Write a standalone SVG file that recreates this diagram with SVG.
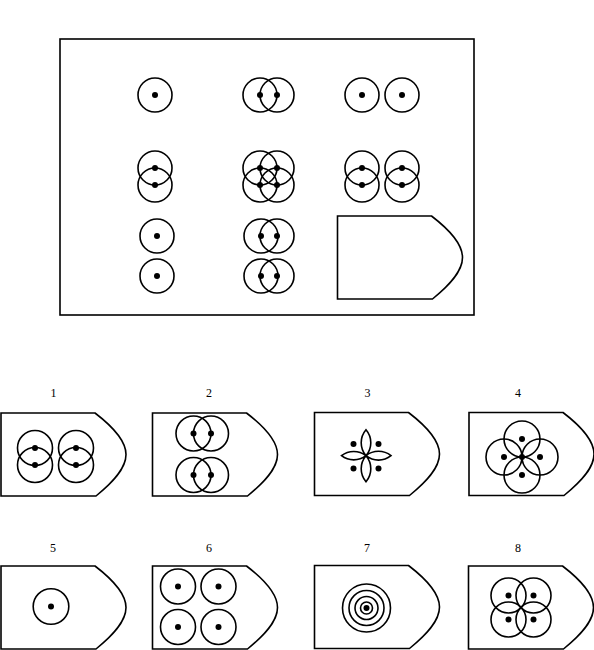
<svg xmlns="http://www.w3.org/2000/svg" xmlns:xlink="http://www.w3.org/1999/xlink" width="594" height="650" viewBox="0 0 594 650">
<style>
.c{fill:none;stroke:#000;stroke-width:1.6}
.d{fill:#000;stroke:none}
.s{fill:none;stroke:#000;stroke-width:1.6;stroke-linejoin:miter}
.lbl{font-family:"Liberation Serif","Times New Roman",serif;font-size:12px;fill:#000;text-anchor:middle}
</style>
<defs>
<path id="tag" d="M0 0 H94 C111 13 125 27 125 41.5 C125 56 111 70 95 83 H0 Z"/>
</defs>
<rect width="594" height="650" fill="#fff"/>
<g id="matrix">
<rect x="60" y="39" width="414" height="276" class="s" stroke="#222"/>
<g id="a1"><circle cx="155" cy="95" r="17" class="c"/><circle cx="155" cy="95" r="3" class="d"/></g>
<g id="a2"><circle cx="260" cy="95" r="17" class="c"/><circle cx="277" cy="95" r="17" class="c"/><circle cx="260" cy="95" r="3" class="d"/><circle cx="277" cy="95" r="3" class="d"/></g>
<g id="a3"><circle cx="362" cy="95" r="17" class="c"/><circle cx="402" cy="95" r="17" class="c"/><circle cx="362" cy="95" r="3" class="d"/><circle cx="402" cy="95" r="3" class="d"/></g>
<g id="b1"><circle cx="155" cy="168" r="17" class="c"/><circle cx="155" cy="185" r="17" class="c"/><circle cx="155" cy="168" r="3" class="d"/><circle cx="155" cy="185" r="3" class="d"/></g>
<g id="b2"><circle cx="260" cy="168" r="17" class="c"/><circle cx="277" cy="168" r="17" class="c"/><circle cx="260" cy="185" r="17" class="c"/><circle cx="277" cy="185" r="17" class="c"/><circle cx="260" cy="168" r="3" class="d"/><circle cx="277" cy="168" r="3" class="d"/><circle cx="260" cy="185" r="3" class="d"/><circle cx="277" cy="185" r="3" class="d"/></g>
<g id="b3"><circle cx="362" cy="168" r="17" class="c"/><circle cx="362" cy="185" r="17" class="c"/><circle cx="402" cy="168" r="17" class="c"/><circle cx="402" cy="185" r="17" class="c"/><circle cx="362" cy="168" r="3" class="d"/><circle cx="362" cy="185" r="3" class="d"/><circle cx="402" cy="168" r="3" class="d"/><circle cx="402" cy="185" r="3" class="d"/></g>
<g id="c1"><circle cx="157" cy="236" r="17" class="c"/><circle cx="157" cy="276" r="17" class="c"/><circle cx="157" cy="236" r="3" class="d"/><circle cx="157" cy="276" r="3" class="d"/></g>
<g id="c2"><circle cx="261" cy="236" r="17" class="c"/><circle cx="277" cy="236" r="17" class="c"/><circle cx="261" cy="276" r="17" class="c"/><circle cx="277" cy="276" r="17" class="c"/><circle cx="261" cy="236" r="3" class="d"/><circle cx="277" cy="236" r="3" class="d"/><circle cx="261" cy="276" r="3" class="d"/><circle cx="277" cy="276" r="3" class="d"/></g>
<g id="c3"><use xlink:href="#tag" href="#tag" x="337.5" y="216" class="s"/></g>
</g>
<g id="opt1">
<text x="53.5" y="397" class="lbl">1</text>
<use xlink:href="#tag" href="#tag" x="1" y="413" class="s"/>
<circle cx="35" cy="448" r="17.5" class="c"/><circle cx="35" cy="465" r="17.5" class="c"/><circle cx="76" cy="448" r="17.5" class="c"/><circle cx="76" cy="465" r="17.5" class="c"/>
<circle cx="35" cy="448" r="3" class="d"/><circle cx="35" cy="465" r="3" class="d"/><circle cx="76" cy="448" r="3" class="d"/><circle cx="76" cy="465" r="3" class="d"/>
</g>
<g id="opt2">
<text x="209" y="397" class="lbl">2</text>
<use xlink:href="#tag" href="#tag" x="152.5" y="413" class="s"/>
<circle cx="193.5" cy="433.5" r="17.5" class="c"/><circle cx="211" cy="433.5" r="17.5" class="c"/><circle cx="193.5" cy="475" r="17.5" class="c"/><circle cx="211" cy="475" r="17.5" class="c"/>
<circle cx="193.5" cy="433.5" r="3" class="d"/><circle cx="211" cy="433.5" r="3" class="d"/><circle cx="193.5" cy="475" r="3" class="d"/><circle cx="211" cy="475" r="3" class="d"/>
</g>
<g id="opt3">
<text x="367.5" y="397" class="lbl">3</text>
<use xlink:href="#tag" href="#tag" x="314.5" y="412.5" class="s"/>
<path class="c" d="M366 455.7 A20 20 0 0 1 366 429.7 A20 20 0 0 1 366 455.7 Z M366 455.7 A20 20 0 0 1 366 481.7 A20 20 0 0 1 366 455.7 Z M366 455.7 A20 20 0 0 1 341.5 455.7 A20 20 0 0 1 366 455.7 Z M366 455.7 A20 20 0 0 1 391 455.7 A20 20 0 0 1 366 455.7 Z" stroke-width="1.3"/>
<circle cx="353.5" cy="444" r="3" class="d"/><circle cx="378.5" cy="444" r="3" class="d"/><circle cx="353.5" cy="468.5" r="3" class="d"/><circle cx="378.5" cy="468.5" r="3" class="d"/>
</g>
<g id="opt4">
<text x="518" y="397" class="lbl">4</text>
<use xlink:href="#tag" href="#tag" x="469" y="412.5" class="s"/>
<circle cx="522" cy="439" r="18" class="c"/><circle cx="504" cy="457" r="18" class="c"/><circle cx="540" cy="457" r="18" class="c"/><circle cx="522" cy="475" r="18" class="c"/>
<circle cx="522" cy="439" r="3" class="d"/><circle cx="504" cy="457" r="3" class="d"/><circle cx="540" cy="457" r="3" class="d"/><circle cx="522" cy="475" r="3" class="d"/><circle cx="522" cy="457" r="3" class="d"/>
</g>
<g id="opt5">
<text x="53" y="551.5" class="lbl">5</text>
<use xlink:href="#tag" href="#tag" x="1" y="566" class="s"/>
<circle cx="51" cy="606.5" r="17.8" class="c"/><circle cx="51" cy="606.5" r="3" class="d"/>
</g>
<g id="opt6">
<text x="209" y="551.5" class="lbl">6</text>
<use xlink:href="#tag" href="#tag" x="152.5" y="566" class="s"/>
<circle cx="178" cy="586.5" r="17.5" class="c"/><circle cx="218.5" cy="586.5" r="17.5" class="c"/><circle cx="178" cy="627" r="17.5" class="c"/><circle cx="218.5" cy="627" r="17.5" class="c"/>
<circle cx="178" cy="586.5" r="3" class="d"/><circle cx="218.5" cy="586.5" r="3" class="d"/><circle cx="178" cy="627" r="3" class="d"/><circle cx="218.5" cy="627" r="3" class="d"/>
</g>
<g id="opt7">
<text x="367" y="551.5" class="lbl">7</text>
<use xlink:href="#tag" href="#tag" x="314.5" y="565.5" class="s"/>
<circle cx="366.5" cy="608" r="24" class="c"/><circle cx="366.5" cy="608" r="17.5" class="c"/><circle cx="366.5" cy="608" r="11.5" class="c"/><circle cx="366.5" cy="608" r="6" class="c"/>
<circle cx="366.5" cy="608" r="3" class="d"/>
</g>
<g id="opt8">
<text x="518" y="551.5" class="lbl">8</text>
<use xlink:href="#tag" href="#tag" x="468.5" y="566" class="s"/>
<circle cx="508.5" cy="595.5" r="17.5" class="c"/><circle cx="533.5" cy="595.5" r="17.5" class="c"/><circle cx="508.5" cy="619.5" r="17.5" class="c"/><circle cx="533.5" cy="619.5" r="17.5" class="c"/>
<circle cx="508.5" cy="595.5" r="3" class="d"/><circle cx="533.5" cy="595.5" r="3" class="d"/><circle cx="508.5" cy="619.5" r="3" class="d"/><circle cx="533.5" cy="619.5" r="3" class="d"/>
</g>
<g id="connectors"/>
</svg>
